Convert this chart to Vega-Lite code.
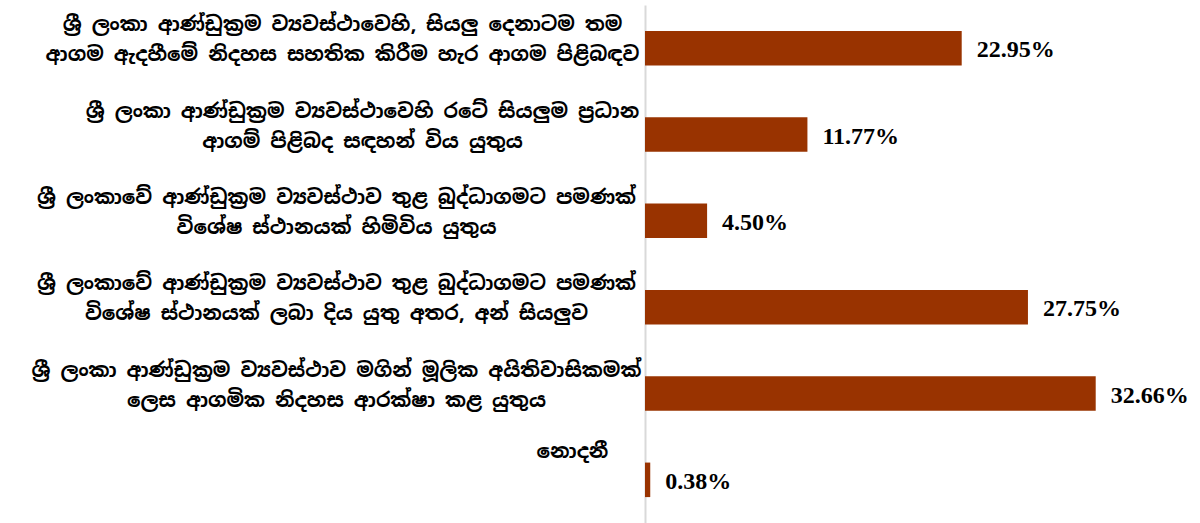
{
  "$schema": "https://vega.github.io/schema/vega-lite/v6.json",
  "autosize": {"type": "none"},
  "padding": {"left": 645, "top": 5, "right": 3, "bottom": 0},
  "width": 552,
  "height": 518,
  "background": "white",
  "config": {"view": {"stroke": null}},
  "data": {
    "values": [
      {"label": "ශ්‍රී ලංකා ආණ්ඩුක්‍රම ව්‍යවස්ථාවෙහි, සියලු දෙනාටම තම|ආගම ඇදහීමේ නිදහස සහතික කිරීම හැර ආගම පිළිබඳව", "value": 0.2295},
      {"label": "ශ්‍රී ලංකා ආණ්ඩුක්‍රම ව්‍යවස්ථාවෙහි රටේ සියලුම ප්‍රධාන|ආගම් පිළිබද සඳහන් විය යුතුය", "value": 0.1177},
      {"label": "ශ්‍රී ලංකාවේ ආණ්ඩුක්‍රම ව්‍යවස්ථාව තුළ බුද්ධාගමට පමණක්|විශේෂ ස්ථානයක් හිමිවිය යුතුය", "value": 0.045},
      {"label": "ශ්‍රී ලංකාවේ ආණ්ඩුක්‍රම ව්‍යවස්ථාව තුළ බුද්ධාගමට පමණක්|විශේෂ ස්ථානයක් ලබා දිය යුතු අතර, අන් සියලුව", "value": 0.2775},
      {"label": "ශ්‍රී ලංකා ආණ්ඩුක්‍රම ව්‍යවස්ථාව මගින් මූලික අයිතිවාසිකමක්|ලෙස ආගමික නිදහස ආරක්ෂා කළ යුතුය", "value": 0.3266},
      {"label": "නොදනී", "value": 0.0038}
    ]
  },
  "encoding": {
    "y": {
      "field": "label",
      "type": "nominal",
      "sort": null,
      "scale": {"paddingInner": 0.6, "paddingOuter": 0.3},
      "axis": {
        "title": null,
        "labelExpr": "split(datum.label, '|')",
        "ticks": false,
        "domain": true,
        "domainColor": "#d9d9d9",
        "domainWidth": 2,
        "labelAlign": "center",
        "labelPadding": {
          "condition": [
            {"test": "datum.value == 'නොදනී'", "value": 73},
            {"test": "indexof(datum.value, 'රටේ') >= 0", "value": 283},
            {"test": "indexof(datum.value, 'දෙනාටම') >= 0", "value": 303}
          ],
          "value": 309
        },
        "labelFont": "Noto Sans Sinhala, Iskoola Pota, Noto Sans, sans-serif",
        "labelFontSize": 20,
        "labelFontWeight": "bold",
        "labelColor": "#000000",
        "labelLineHeight": 30,
        "labelBaseline": "alphabetic",
        "labelOffset": {
          "condition": {"test": "datum.value == 'නොදනී'", "value": -22},
          "value": -17
        },
        "labelLimit": 700
      }
    },
    "x": {
      "field": "value",
      "type": "quantitative",
      "scale": {"domain": [0, 0.4]},
      "axis": null
    }
  },
  "layer": [
    {"mark": {"type": "bar", "color": "#993300"}},
    {
      "mark": {
        "type": "text",
        "align": "left",
        "baseline": "middle",
        "dx": 15,
        "dy": 2,
        "font": "Liberation Serif",
        "fontSize": 24,
        "fontWeight": "bold",
        "color": "#000000"
      },
      "encoding": {"text": {"field": "value", "type": "quantitative", "format": ".2%"}}
    }
  ]
}
